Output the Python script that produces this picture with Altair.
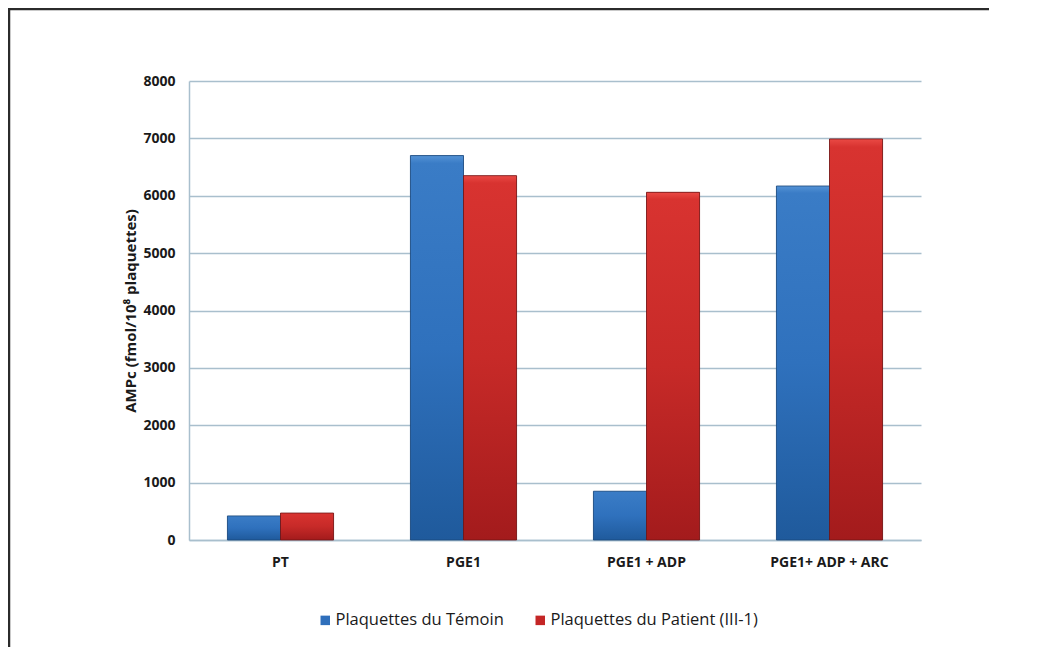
import altair as alt
import pandas as pd

categories = ["PT", "PGE1", "PGE1 + ADP", "PGE1+ ADP + ARC"]
series = ["Plaquettes du Témoin", "Plaquettes du Patient (III-1)"]
temoin = [420, 6700, 850, 6170]
patient = [470, 6350, 6060, 6990]

rows = []
for c, t, p in zip(categories, temoin, patient):
    rows.append({"cat": c, "serie": series[0], "val": t})
    rows.append({"cat": c, "serie": series[1], "val": p})
df = pd.DataFrame(rows)

FONT = "Open Sans"
grid_col = "#a9bfcd"

x_enc = alt.X("cat:N", sort=categories, title=None,
              scale=alt.Scale(paddingInner=0.42, paddingOuter=0.21),
              axis=alt.Axis(labelAngle=0, labelFont=FONT, labelFontSize=14, labelFontWeight="bold",
                            labelColor="#1a1a1a", labelPadding=15, ticks=False,
                            domainColor=grid_col, domainWidth=1.5))
y_enc = alt.Y("val:Q", title="AMPc (fmol/10⁸ plaquettes)",
              scale=alt.Scale(domain=[0, 8000]),
              axis=alt.Axis(values=list(range(0, 8001, 1000)), format="d", labelFont=FONT,
                            labelFontSize=14, labelFontWeight="bold", labelColor="#1a1a1a",
                            labelPadding=14, ticks=False, domainColor=grid_col, domainWidth=1.5,
                            gridColor=grid_col, gridWidth=1.5,
                            titleFont=FONT, titleFontSize=15, titleFontWeight="bold",
                            titleColor="#1a1a1a", titlePadding=4))
xo = alt.XOffset("serie:N", sort=series, scale=alt.Scale(paddingInner=0, paddingOuter=0))

base = alt.Chart(df).mark_bar().encode(
    x=x_enc, y=y_enc, xOffset=xo,
    color=alt.Color("serie:N", sort=series,
                    scale=alt.Scale(domain=series, range=["#2f6fbb", "#c42626"]),
                    legend=alt.Legend(title=None, orient="none", legendX=128, legendY=531,
                                      direction="horizontal", symbolType="square", symbolSize=90,
                                      labelFont=FONT, labelFontSize=16.5, labelColor="#1a1a1a",
                                      columnPadding=28, labelLimit=400, symbolStrokeWidth=0,
                                      labelOffset=2)),
)

blue_grad = alt.LinearGradient(gradient="linear", x1=0, y1=0, x2=0, y2=1,
                               stops=[alt.GradientStop(color="#5593d6", offset=0),
                                      alt.GradientStop(color="#3a7cc6", offset=0.02),
                                      alt.GradientStop(color="#2f71bd", offset=0.5),
                                      alt.GradientStop(color="#1f5a9c", offset=1)])
red_grad = alt.LinearGradient(gradient="linear", x1=0, y1=0, x2=0, y2=1,
                              stops=[alt.GradientStop(color="#ea4a45", offset=0),
                                     alt.GradientStop(color="#d83330", offset=0.02),
                                     alt.GradientStop(color="#c72a28", offset=0.5),
                                     alt.GradientStop(color="#a31b1c", offset=1)])

blue = alt.Chart(df).transform_filter(alt.datum.serie == series[0]).mark_bar(
    fill=blue_grad, stroke="#1b4678", strokeWidth=0.8).encode(x=x_enc, y=y_enc, xOffset=xo)
red = alt.Chart(df).transform_filter(alt.datum.serie == series[1]).mark_bar(
    fill=red_grad, stroke="#6e1414", strokeWidth=0.8).encode(x=x_enc, y=y_enc, xOffset=xo)

frame = alt.Chart(alt.Data(values=[{}]))
top_line = frame.mark_rule(color="#2b2b2b", strokeWidth=2.5).encode(
    x=alt.value(-181), x2=alt.value(800), y=alt.value(-72))
left_line = frame.mark_rule(color="#2b2b2b", strokeWidth=2.5).encode(
    x=alt.value(-180), y=alt.value(-73), y2=alt.value(566))

chart = alt.layer(base, blue, red, top_line, left_line).properties(
    width=732, height=459,
    autosize=alt.AutoSizeParams(type="none"),
    padding={"left": 181, "top": 73, "right": 118, "bottom": 108},
).configure(background="white").configure_view(stroke=None)

chart.save("out.html", embed_options={"renderer": "svg", "actions": False})
